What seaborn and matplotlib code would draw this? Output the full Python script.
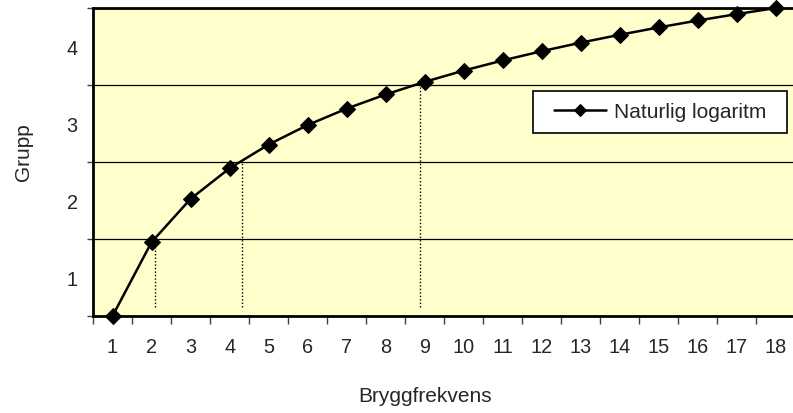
import matplotlib
matplotlib.use("Agg")
import matplotlib.pyplot as plt
import seaborn as sns
import pandas as pd
from matplotlib.ticker import FixedLocator, NullFormatter
from matplotlib.patches import Rectangle

# Data
frequency = [1, 2, 3, 4, 5, 6, 7, 8, 9, 10, 11, 12, 13, 14, 15, 16, 17, 18]
ln_values = [0.000, 0.693, 1.099, 1.386, 1.609, 1.792, 1.946, 2.079, 2.197,
             2.303, 2.398, 2.485, 2.565, 2.639, 2.708, 2.773, 2.833, 2.890]
group_bounds = [0.0, 0.7225, 1.445, 2.1675, 2.890]
group_labels = ["1", "2", "3", "4"]
divider_x = [2.08, 4.33, 8.87]
series_name = "Naturlig logaritm"

sns.set_style("white")
plt.rcParams['font.family'] = ['Liberation Sans', 'DejaVu Sans']

df = pd.DataFrame({"Bryggfrekvens": frequency, series_name: ln_values})

fig = plt.figure(figsize=(7.93, 4.14), dpi=100)
ax = fig.add_axes([93 / 793, 1 - 317 / 414, 702.5 / 793, 308 / 414])
ax.set_facecolor("#FFFFCC")

# grid lines
for gb in group_bounds[1:-1]:
    ax.axhline(gb, color="black", lw=0.9, zorder=1)

# dotted dividers
for dx, top in zip(divider_x, group_bounds[1:4]):
    ax.vlines(dx, 0.085, top, colors="black", linestyles=(0, (1, 1.5)), lw=1.0, zorder=1)

sns.lineplot(data=df, x="Bryggfrekvens", y=series_name, ax=ax, color="black",
             marker="D", markersize=8.5, markeredgecolor="black", lw=1.8,
             label=series_name, zorder=3, clip_on=False)

ax.set_xlim(0.5, 18.5)
ax.set_ylim(group_bounds[0], group_bounds[-1])

# x ticks: labels at categories, tick marks at boundaries
ax.set_xticks(frequency)
ax.set_xticklabels([str(f) for f in frequency], fontsize=14.3)
ax.xaxis.set_minor_locator(FixedLocator([f + 0.5 for f in [0] + frequency]))
ax.tick_params(axis="x", which="major", length=0, pad=15)
ax.tick_params(axis="x", which="minor", length=6, width=1, color="#404040", direction="out", bottom=True)

# y ticks: marks at group bounds, labels in the middle
ax.set_yticks([(a + b) / 2 for a, b in zip(group_bounds[:-1], group_bounds[1:])])
ax.set_yticklabels(group_labels, fontsize=14.3)
ax.yaxis.set_minor_locator(FixedLocator(group_bounds))
ax.yaxis.set_minor_formatter(NullFormatter())
ax.tick_params(axis="y", which="major", length=0, pad=11)
ax.tick_params(axis="y", which="minor", length=4, width=1, color="#404040", direction="out", left=True)

for side in ["left", "bottom", "top"]:
    ax.spines[side].set_visible(True)
    ax.spines[side].set_color("black")
    ax.spines[side].set_linewidth(2)
ax.spines["right"].set_visible(False)

ax.set_xlabel("")
ax.set_ylabel("")
fig.text(24 / 793, 1 - 152 / 414, "Grupp", rotation=90, ha="center", va="center", fontsize=15)
fig.text(425 / 793, 1 - 397 / 414, "Bryggfrekvens", ha="center", va="center", fontsize=15)

# legend box
x0, x1 = (533 - 93) / 702.5, (787 - 93) / 702.5
y0, y1 = (317 - 134) / 308, (317 - 92) / 308
ax.add_patch(Rectangle((x0, y0), x1 - x0, y1 - y0, transform=ax.transAxes,
                       facecolor="white", edgecolor="black", lw=1.2, zorder=4))
leg = ax.legend(loc="center", bbox_to_anchor=((x0 + x1) / 2, (y0 + y1) / 2), fontsize=15,
                frameon=False, handlelength=2.5, borderpad=0.0, borderaxespad=0.0,
                handletextpad=0.35)
leg.set_zorder(5)
for h in leg.legend_handles:
    h.set_markersize(6.5)

fig.savefig("out.png", dpi=100)
